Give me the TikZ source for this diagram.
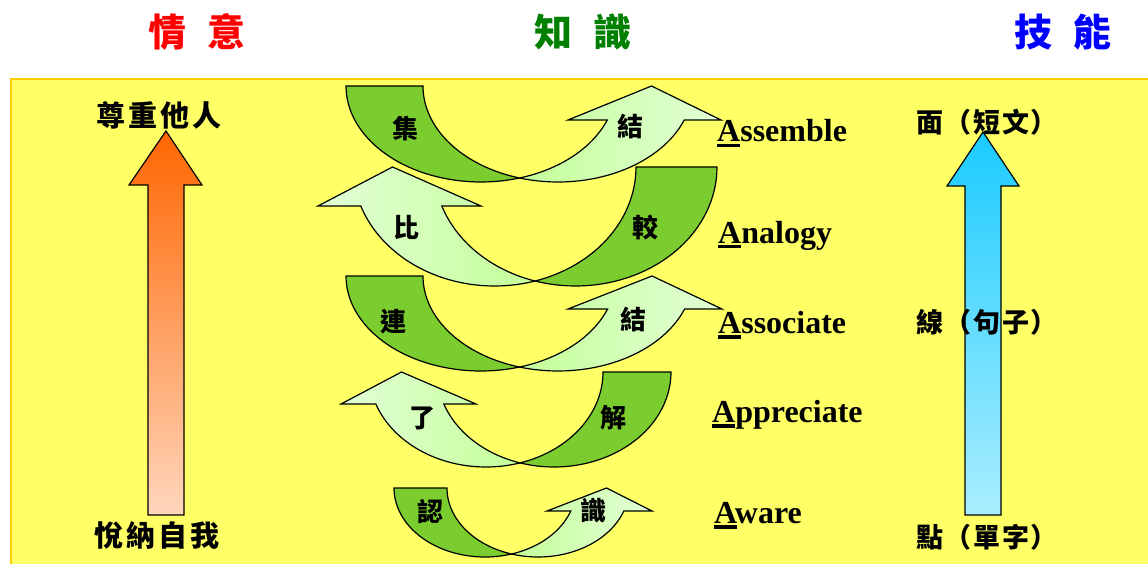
\documentclass[tikz,border=0pt]{standalone}
\usepackage{fontspec}
\setmainfont{Liberation Serif}
\newfontfamily\cjk{Noto Sans CJK TC}

\definecolor{paper}{HTML}{FFFF66}
\definecolor{rim}{HTML}{FFCC00}
\definecolor{leafdark}{HTML}{7BCC2E}
\definecolor{leafmid}{HTML}{C4FF99}
\definecolor{leafpale}{HTML}{E2FFD6}
\definecolor{heartred}{HTML}{FF0000}
\definecolor{mindgreen}{HTML}{008000}
\definecolor{handblue}{HTML}{0000FF}

% underlined first letter
\newcommand{\ulA}{\setbox0=\hbox{A}\rlap{\rule[-5.5pt]{\wd0}{3.2pt}}A}

% curved band arrow: #1 side (1 = head right, -1 = head left), #2 centre x,
% #3 top y, #4 x radius, #5 y radius, #6 band width, #7 head base y,
% #8 head inner corner x, #9 head outer corner x
\newcommand{\bandarrow}[9]{%
  \pgfmathsetmacro\cross{acos(#6/(2*#4))}%
  \pgfmathsetmacro\back{180-\cross}%
  \pgfmathsetmacro\lift{asin((#7-#3)/#5)}%
  \pgfmathsetmacro\tipx{(#8+#9)/2+7*(#1)}%
  \ifnum#1>0 \def\lc{leafmid}\def\rc{leafpale}\else\def\lc{leafpale}\def\rc{leafmid}\fi
  \draw[dark band] plot[domain=180:\cross] ({#2+(#1)*#4*cos(\x)},{#3+#5*sin(\x)})
    -- plot[domain=\back:180] ({#2+(#1)*(#6+#4*cos(\x))},{#3+#5*sin(\x)}) -- cycle;
  \draw[pale band, left color=\lc, right color=\rc]
    plot[domain=\back:\lift] ({#2+(#1)*(#6+#4*cos(\x))},{#3+#5*sin(\x)})
    -- (#9,#7) -- (\tipx,#3) -- (#8,#7)
    -- plot[domain=\lift:\cross] ({#2+(#1)*#4*cos(\x)},{#3+#5*sin(\x)}) -- cycle;
}

\begin{document}
\begin{tikzpicture}[x=1pt, y=-1pt, samples=40]
\tikzstyle{dark band}=[draw=black, line width=1.2pt, fill=leafdark]
\tikzstyle{pale band}=[draw=black, line width=1.2pt]
\tikzstyle{title}=[inner sep=0pt, font=\cjk\bfseries\fontsize{38}{40}\selectfont]
\tikzstyle{side}=[inner sep=0pt, font=\cjk\bfseries\fontsize{29}{31}\selectfont\addfontfeature{LetterSpace=11}]
\tikzstyle{sider}=[inner sep=0pt, font=\cjk\bfseries\fontsize{27}{29}\selectfont\addfontfeature{LetterSpace=6}]
\tikzstyle{word}=[inner sep=0pt, font=\cjk\bfseries\fontsize{26}{28}\selectfont]
\tikzstyle{eng}=[inner sep=0pt, anchor=base west, font=\bfseries\fontsize{32}{34}\selectfont]

\useasboundingbox (0,0) rectangle (1148,564);
\fill[white] (0,0) rectangle (1148,564);
\draw[rim, line width=2.5pt, fill=paper] (11,79) rectangle (1170,590);

% titles
\node[title, text=heartred] (affect) at (197,32) {情\hspace{22pt}意};
\node[title, text=mindgreen] (cognit) at (583,32) {知\hspace{22pt}識};
\node[title, text=handblue] (skill) at (1063,32) {技\hspace{22pt}能};

% straight arrows
\draw[line width=1.2pt, top color=orange!80!red, bottom color={rgb,255:red,255;green,214;blue,188}]
  (148,515) -- (148,185) -- (129,185) -- (166,131) -- (202,185) -- (184,185) -- (184,515) -- cycle;
\draw[line width=1.2pt, top color={rgb,255:red,26;green,203;blue,255}, bottom color={rgb,255:red,170;green,238;blue,255}]
  (965,515) -- (965,186) -- (947,186) -- (983,132) -- (1019,186) -- (1001,186) -- (1001,515) -- cycle;

\node[side] (respect) at (159,115) {尊重他人};
\node[side] (accept) at (157,535) {悅納自我};
\node[sider] (para) at (987,122) {面（短文）};
\node[sider] (sent) at (987,322) {線（句子）};
\node[sider] (char) at (987,537) {點（單字）};

% curved arrows
\bandarrow{1}{481}{86}{135}{96}{77}{120}{568}{721}
\bandarrow{-1}{575.5}{167}{141.5}{119}{81}{206}{481}{318}
\bandarrow{1}{481}{276}{135}{95}{77}{309}{568}{722}
\bandarrow{-1}{554}{372}{117}{95}{68}{404}{476}{341}
\bandarrow{1}{485}{488}{91}{69}{53}{511}{547}{652}

\node[word] (gather) at (405,128) {集};
\node[word] (bind1) at (630,127) {結};
\node[word] (compA) at (406,227) {比};
\node[word] (compB) at (645,228) {較};
\node[word] (link) at (393,322) {連};
\node[word] (bind2) at (633,320) {結};
\node[word] (grasp) at (422,418) {了};
\node[word] (solve) at (613,418) {解};
\node[word] (recog) at (430,511) {認};
\node[word] (sense) at (593,511) {識};

\node[eng] (assemble) at (717,142) {\ulA ssemble};
\node[eng] (analogy) at (718,243) {\ulA nalogy};
\node[eng] (associate) at (718,333) {\ulA ssociate};
\node[eng] (appreciate) at (712,422) {\ulA ppreciate};
\node[eng] (aware) at (714,523) {\ulA ware};
\end{tikzpicture}
\end{document}
